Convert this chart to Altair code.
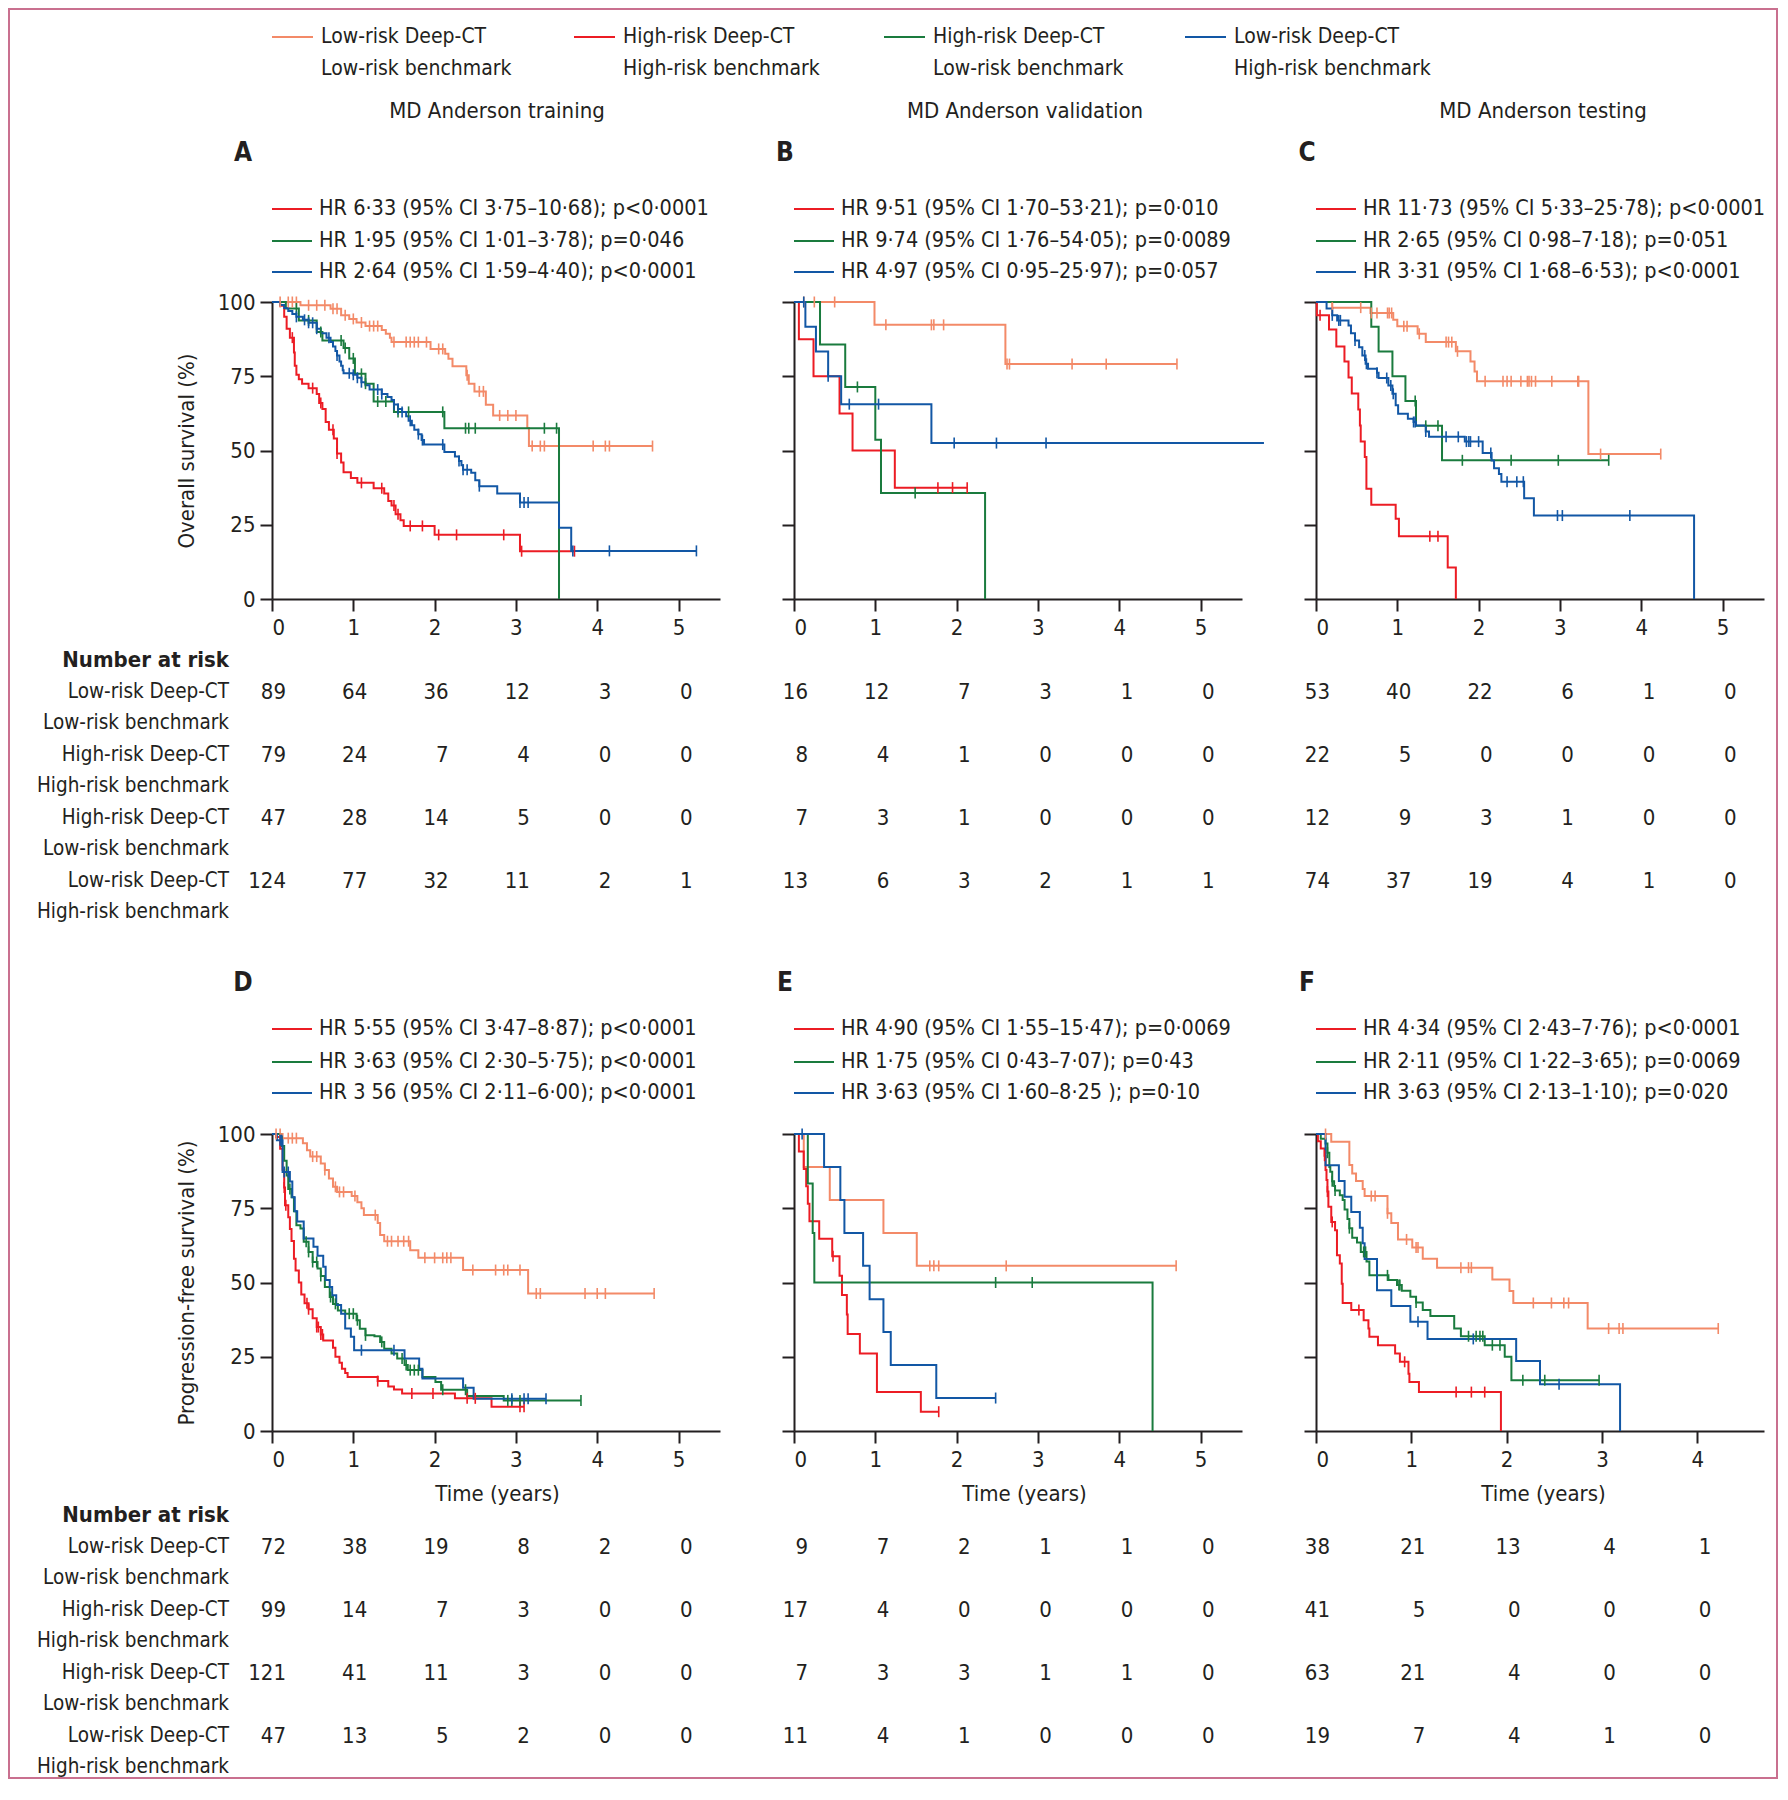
import altair as alt
import pandas as pd

FONT = "'Liberation Sans Narrow', 'DejaVu Sans Condensed', 'Liberation Sans', sans-serif"
TXT = "#231f20"
FRAME = "#c9708f"
FS = 22
FS_HR = 21.5
FS_LEG = 21
FS_ROWLAB = 20.5

GROUPS = [0, 1, 2, 3]
COLORS = ["#f38a68", "#ec1c24", "#1a7b3e", "#1257a5"]
LEG1 = ["Low-risk Deep-CT", "High-risk Deep-CT", "High-risk Deep-CT", "Low-risk Deep-CT"]
LEG2 = ["Low-risk benchmark", "High-risk benchmark", "Low-risk benchmark", "High-risk benchmark"]
COLUMN_TITLES = ["MD Anderson training", "MD Anderson validation", "MD Anderson testing"]

# ---------------- Panel A: OS, training ----------------
A_LL_T = [0.35, 0.72, 0.85, 0.95, 1.04, 1.15, 1.35, 1.40, 1.45, 1.47, 1.95, 2.13, 2.17, 2.22, 2.39, 2.42, 2.49, 2.63, 2.72, 3.14, 3.16]
A_LL_S = [98.9, 97.7, 95.5, 94.3, 93.1, 91.9, 90.6, 89.3, 88.0, 86.5, 84.2, 82.6, 80.9, 78.4, 75.3, 72.5, 69.9, 65.4, 61.8, 57.6, 51.5]
A_LL_C = [0.1, 0.2, 0.25, 0.3, 0.45, 0.55, 0.65, 0.75, 0.8, 0.9, 1.0, 1.1, 1.2, 1.25, 1.3, 1.5, 1.65, 1.7, 1.75, 1.8, 1.9, 2.05, 2.1, 2.4, 2.55, 2.6, 2.8, 2.9, 3.0, 3.2, 3.3, 3.35, 3.95, 4.1, 4.15, 4.68]
A_HH_T = [0.10, 0.15, 0.18, 0.22, 0.27, 0.28, 0.30, 0.33, 0.37, 0.45, 0.55, 0.58, 0.62, 0.66, 0.70, 0.76, 0.80, 0.85, 0.88, 0.97, 1.05, 1.25, 1.38, 1.43, 1.47, 1.52, 1.58, 1.62, 2.00, 3.05]
A_HH_S = [98.7, 95.0, 91.0, 88.0, 83.0, 78.5, 75.5, 74.0, 72.5, 71.0, 69.0, 66.0, 64.0, 59.6, 57.0, 54.0, 49.0, 46.0, 42.7, 40.7, 39.1, 37.3, 35.5, 33.0, 31.5, 28.5, 26.5, 24.6, 21.6, 16.1]
A_HH_C = [0.25, 0.5, 0.6, 0.75, 0.8, 1.1, 1.35, 1.5, 1.55, 1.7, 1.85, 2.05, 2.27, 2.85, 3.07, 3.72]
A_HL_T = [0.17, 0.33, 0.55, 0.62, 0.88, 0.95, 1.02, 1.15, 1.25, 1.50, 2.12, 3.53]
A_HL_S = [97.8, 93.8, 89.9, 87.0, 84.5, 81.0, 75.8, 72.5, 66.5, 63.0, 57.5, 0.0]
A_HL_C = [0.3, 0.45, 0.6, 0.85, 0.9, 1.0, 1.1, 1.15, 1.3, 1.4, 1.55, 1.68, 2.1, 2.38, 2.42, 2.5, 3.35, 3.5]
A_LH_T = [0.10, 0.15, 0.20, 0.25, 0.30, 0.38, 0.45, 0.55, 0.60, 0.67, 0.72, 0.75, 0.78, 0.80, 0.83, 0.85, 0.87, 0.88, 1.00, 1.05, 1.10, 1.15, 1.20, 1.35, 1.42, 1.47, 1.50, 1.55, 1.60, 1.65, 1.68, 1.72, 1.75, 1.80, 1.84, 1.87, 2.12, 2.25, 2.30, 2.33, 2.35, 2.45, 2.50, 2.55, 2.77, 3.05, 3.53, 3.68]
A_LH_S = [99.0, 98.0, 97.0, 96.0, 95.0, 94.0, 93.0, 91.0, 89.5, 88.0, 86.5, 85.0, 83.5, 82.0, 80.0, 78.5, 77.0, 76.0, 75.5, 74.5, 73.0, 72.0, 70.5, 69.0, 68.0, 67.0, 65.5, 64.0, 63.0, 61.5, 60.0, 58.5, 57.0, 55.5, 53.5, 52.0, 49.5, 48.0, 46.5, 45.0, 43.5, 42.5, 40.0, 38.0, 35.5, 32.5, 24.0, 16.2]
A_LH_C = [0.3, 0.4, 0.45, 0.5, 0.55, 0.7, 0.8, 0.95, 1.0, 1.05, 1.1, 1.3, 1.35, 1.5, 1.55, 1.6, 1.7, 1.8, 1.85, 2.1, 2.3, 2.35, 2.4, 2.55, 3.05, 3.1, 3.15, 3.7, 4.15, 5.22]

# ---------------- Panel B: OS, validation ----------------
B_LL_T = [0.99, 2.60]
B_LL_S = [92.3, 79.1]
B_LL_C = [0.12, 0.25, 0.5, 1.13, 1.69, 1.72, 1.84, 2.62, 2.65, 3.42, 3.84, 4.71]
B_HH_T = [0.06, 0.24, 0.56, 0.72, 1.24]
B_HH_S = [87.5, 75.0, 62.5, 50.0, 37.5]
B_HH_C = [1.77, 1.95, 2.13]
B_HL_T = [0.32, 0.63, 1.00, 1.07, 2.35]
B_HL_S = [85.7, 71.4, 53.6, 35.7, 0.0]
B_HL_C = [0.78, 1.49]
B_LH_T = [0.14, 0.27, 0.42, 0.58, 1.69]
B_LH_S = [91.7, 83.3, 75.0, 65.6, 52.5]
B_LH_C = [0.12, 0.42, 0.68, 1.04, 1.97, 2.49, 3.10]
B_LH_END = 5.78

# ---------------- Panel C: OS, testing ----------------
C_LL_T = [0.20, 0.67, 0.95, 1.00, 1.25, 1.35, 1.72, 1.90, 1.95, 1.98, 3.35]
C_LL_S = [98.1, 96.3, 94.0, 91.8, 89.3, 86.5, 83.4, 80.0, 76.6, 73.3, 48.8]
C_LL_C = [0.2, 0.55, 0.68, 0.75, 0.88, 0.9, 0.93, 1.08, 1.12, 1.27, 1.6, 1.63, 1.67, 1.74, 2.08, 2.3, 2.35, 2.4, 2.52, 2.6, 2.62, 2.65, 2.7, 2.9, 3.22, 3.23, 3.5, 4.24]
C_HH_T = [0.01, 0.16, 0.25, 0.35, 0.40, 0.44, 0.52, 0.54, 0.55, 0.60, 0.62, 0.68, 0.98, 1.02, 1.62, 1.72]
C_HH_S = [95.5, 90.7, 85.0, 80.0, 74.6, 69.2, 63.8, 58.4, 53.0, 47.8, 37.1, 31.7, 27.0, 21.1, 10.6, 0.0]
C_HH_C = [0.05, 1.4, 1.5]
C_HL_T = [0.68, 0.77, 0.94, 1.10, 1.23, 1.55]
C_HL_S = [91.7, 83.3, 75.0, 66.7, 58.3, 46.7]
C_HL_C = [1.22, 1.35, 1.5, 1.8, 2.4, 2.98, 3.6]
C_LH_T = [0.13, 0.20, 0.26, 0.40, 0.43, 0.48, 0.53, 0.57, 0.61, 0.64, 0.75, 0.77, 0.89, 0.94, 0.98, 1.01, 1.13, 1.20, 1.23, 1.35, 1.39, 1.83, 2.05, 2.16, 2.19, 2.25, 2.28, 2.56, 2.68, 4.65]
C_LH_S = [97.8, 95.5, 93.8, 92.1, 89.5, 87.0, 84.8, 82.0, 79.2, 77.5, 76.2, 74.4, 71.9, 69.1, 65.2, 62.4, 60.7, 59.6, 58.4, 56.4, 54.6, 53.0, 49.2, 46.6, 44.0, 42.1, 39.5, 33.9, 28.1, 0.0]
C_LH_C = [0.2, 0.28, 0.3, 0.48, 0.6, 0.62, 0.75, 0.87, 0.92, 0.95, 1.2, 1.22, 1.35, 1.6, 1.75, 1.85, 1.88, 1.9, 2.0, 2.15, 2.35, 2.47, 2.55, 2.97, 3.03, 3.86]

# ---------------- Panel D: PFS, training ----------------
D_LL_T = [0.13, 0.38, 0.43, 0.47, 0.60, 0.65, 0.70, 0.75, 0.80, 0.98, 1.05, 1.10, 1.13, 1.30, 1.33, 1.38, 1.70, 1.80, 2.35, 3.15]
D_LL_S = [98.6, 96.9, 94.5, 92.4, 90.1, 87.9, 85.0, 82.2, 80.5, 79.1, 77.0, 75.0, 72.7, 70.0, 66.0, 63.9, 60.9, 58.3, 54.2, 46.3]
D_LL_C = [0.05, 0.1, 0.2, 0.25, 0.3, 0.5, 0.55, 0.65, 0.78, 0.83, 0.88, 1.02, 1.27, 1.42, 1.47, 1.55, 1.62, 1.68, 1.88, 2.0, 2.1, 2.15, 2.2, 2.47, 2.75, 2.85, 2.9, 3.05, 3.25, 3.3, 3.85, 4.0, 4.1, 4.7]
D_HH_T = [0.05, 0.10, 0.13, 0.15, 0.16, 0.20, 0.22, 0.24, 0.27, 0.29, 0.33, 0.36, 0.40, 0.45, 0.50, 0.55, 0.60, 0.63, 0.75, 0.78, 0.83, 0.86, 0.90, 0.93, 1.30, 1.43, 1.50, 1.60, 2.25, 2.70]
D_HH_S = [99.0, 95.0, 88.0, 82.0, 76.0, 72.0, 68.0, 64.0, 58.0, 54.0, 50.0, 46.0, 43.0, 41.0, 38.0, 35.0, 32.5, 30.5, 28.0, 25.0, 23.0, 21.0, 19.5, 18.2, 16.8, 15.0, 14.0, 12.6, 11.0, 8.2]
D_HH_C = [0.15, 0.17, 0.43, 0.45, 0.55, 0.57, 0.6, 0.62, 1.3, 1.72, 1.98, 2.4, 2.5, 3.05, 3.1]
D_HL_T = [0.10, 0.12, 0.15, 0.18, 0.20, 0.24, 0.27, 0.30, 0.35, 0.39, 0.45, 0.50, 0.56, 0.60, 0.65, 0.71, 0.75, 0.81, 0.90, 1.04, 1.08, 1.15, 1.26, 1.33, 1.38, 1.47, 1.54, 1.63, 1.67, 1.85, 2.01, 2.08, 2.40, 2.85]
D_HL_S = [99.0, 96.0, 91.0, 86.0, 81.5, 78.7, 74.0, 69.3, 68.2, 63.7, 60.3, 56.9, 54.7, 52.2, 48.5, 45.1, 42.8, 40.6, 39.5, 37.3, 34.4, 32.2, 31.9, 30.0, 27.7, 26.1, 24.4, 22.2, 20.5, 18.2, 16.5, 13.9, 11.8, 10.3]
D_HL_C = [0.22, 0.42, 0.45, 0.5, 0.55, 0.6, 0.72, 0.78, 0.95, 1.0, 1.05, 1.15, 1.35, 1.6, 1.65, 1.7, 1.75, 1.8, 2.1, 2.38, 2.9, 2.95, 3.05, 3.8]
D_LH_T = [0.06, 0.13, 0.22, 0.25, 0.28, 0.31, 0.39, 0.51, 0.56, 0.63, 0.66, 0.71, 0.74, 0.79, 0.85, 0.90, 0.97, 1.01, 1.63, 1.81, 1.85, 2.35, 2.48]
D_LH_S = [97.9, 87.2, 84.0, 78.7, 74.0, 70.5, 64.8, 62.0, 59.0, 55.3, 50.8, 48.5, 45.7, 42.4, 39.5, 34.5, 31.7, 27.2, 24.4, 21.0, 17.7, 14.6, 10.9]
D_LH_C = [0.1, 0.12, 0.15, 0.2, 1.1, 1.5, 2.95, 3.1, 3.15, 3.37]

# ---------------- Panel E: PFS, validation ----------------
E_LL_T = [0.12, 0.44, 1.10, 1.51]
E_LL_S = [88.9, 77.8, 66.7, 55.6]
E_LL_C = [1.67, 1.72, 1.78, 2.61, 4.7]
E_HH_T = [0.06, 0.12, 0.15, 0.17, 0.19, 0.31, 0.47, 0.56, 0.59, 0.65, 0.66, 0.81, 1.02, 1.56]
E_HH_S = [94.1, 88.2, 82.4, 76.5, 70.6, 64.7, 58.8, 52.3, 45.8, 39.2, 32.7, 26.1, 13.1, 6.5]
E_HH_C = [0.48, 1.78]
E_HL_T = [0.17, 0.23, 0.25, 4.41]
E_HL_S = [83.3, 66.7, 50.0, 0.0]
E_HL_C = [2.48, 2.93]
E_LH_T = [0.37, 0.57, 0.62, 0.85, 0.93, 1.10, 1.19, 1.75]
E_LH_S = [88.9, 77.8, 66.7, 55.6, 44.4, 33.3, 22.2, 11.1]
E_LH_C = [0.1, 2.48]

# ---------------- Panel F: PFS, testing ----------------
F_LL_T = [0.16, 0.35, 0.38, 0.42, 0.49, 0.51, 0.75, 0.79, 0.86, 1.01, 1.12, 1.27, 1.85, 2.03, 2.07, 2.85]
F_LL_S = [97.4, 89.6, 86.7, 84.2, 81.5, 79.1, 73.3, 70.0, 64.5, 61.8, 58.0, 55.0, 51.0, 47.1, 43.1, 34.5]
F_LL_C = [0.1, 0.58, 0.62, 0.75, 0.95, 1.05, 1.07, 1.52, 1.6, 1.63, 2.28, 2.47, 2.6, 2.65, 3.07, 3.18, 3.22, 4.22]
F_HH_T = [0.02, 0.05, 0.09, 0.10, 0.11, 0.12, 0.13, 0.16, 0.20, 0.22, 0.25, 0.27, 0.28, 0.37, 0.50, 0.55, 0.56, 0.65, 0.83, 0.88, 0.97, 0.98, 1.08, 1.94]
F_HH_S = [97.6, 95.1, 92.7, 87.9, 84.5, 80.6, 75.5, 70.4, 67.6, 59.2, 56.4, 49.6, 43.1, 40.7, 37.3, 34.5, 31.7, 28.9, 26.1, 23.3, 19.3, 16.5, 13.1, 0.0]
F_HH_C = [0.09, 0.12, 0.17, 0.45, 0.93, 1.47, 1.63, 1.77]
F_HL_T = [0.05, 0.10, 0.12, 0.14, 0.15, 0.17, 0.19, 0.20, 0.25, 0.28, 0.30, 0.33, 0.35, 0.38, 0.43, 0.47, 0.53, 0.56, 0.76, 0.85, 0.90, 0.99, 1.05, 1.12, 1.20, 1.45, 1.52, 1.77, 1.98, 2.05]
F_HL_S = [98.4, 96.8, 93.7, 88.9, 87.3, 84.1, 82.5, 81.0, 79.4, 77.8, 74.6, 71.4, 68.3, 65.1, 63.5, 60.3, 57.1, 52.4, 50.8, 49.2, 47.2, 45.2, 43.3, 40.7, 38.7, 34.5, 31.9, 28.9, 25.0, 17.1]
F_HL_C = [0.12, 0.17, 0.2, 0.35, 0.5, 0.52, 0.75, 0.87, 0.88, 1.05, 1.6, 1.68, 1.72, 1.75, 1.85, 1.93, 2.17, 2.4, 2.97]
F_LH_T = [0.10, 0.24, 0.30, 0.37, 0.46, 0.49, 0.51, 0.64, 0.79, 0.99, 1.17, 2.10, 2.35, 3.19]
F_LH_S = [89.5, 84.2, 78.9, 73.7, 68.4, 63.2, 57.9, 47.4, 42.1, 36.8, 31.0, 23.6, 15.7, 0.0]
F_LH_C = [1.07, 1.65, 2.55]

# ---------------- Number at risk (rows: LL, HH, HL, LH) ----------------
A_RISK = [[89, 64, 36, 12, 3, 0], [79, 24, 7, 4, 0, 0], [47, 28, 14, 5, 0, 0], [124, 77, 32, 11, 2, 1]]
B_RISK = [[16, 12, 7, 3, 1, 0], [8, 4, 1, 0, 0, 0], [7, 3, 1, 0, 0, 0], [13, 6, 3, 2, 1, 1]]
C_RISK = [[53, 40, 22, 6, 1, 0], [22, 5, 0, 0, 0, 0], [12, 9, 3, 1, 0, 0], [74, 37, 19, 4, 1, 0]]
D_RISK = [[72, 38, 19, 8, 2, 0], [99, 14, 7, 3, 0, 0], [121, 41, 11, 3, 0, 0], [47, 13, 5, 2, 0, 0]]
E_RISK = [[9, 7, 2, 1, 1, 0], [17, 4, 0, 0, 0, 0], [7, 3, 3, 1, 1, 0], [11, 4, 1, 0, 0, 0]]
F_RISK = [[38, 21, 13, 4, 1], [41, 5, 0, 0, 0], [63, 21, 4, 0, 0], [19, 7, 4, 1, 0]]

# ---------------- Hazard-ratio annotations (red, green, blue) ----------------
A_HR = ["HR 6·33 (95% CI 3·75–10·68); p<0·0001", "HR 1·95 (95% CI 1·01–3·78); p=0·046", "HR 2·64 (95% CI 1·59–4·40); p<0·0001"]
B_HR = ["HR 9·51 (95% CI 1·70–53·21); p=0·010", "HR 9·74 (95% CI 1·76–54·05); p=0·0089", "HR 4·97 (95% CI 0·95–25·97); p=0·057"]
C_HR = ["HR 11·73 (95% CI 5·33–25·78); p<0·0001", "HR 2·65 (95% CI 0·98–7·18); p=0·051", "HR 3·31 (95% CI 1·68–6·53); p<0·0001"]
D_HR = ["HR 5·55 (95% CI 3·47–8·87); p<0·0001", "HR 3·63 (95% CI 2·30–5·75); p<0·0001", "HR 3 56 (95% CI 2·11–6·00); p<0·0001"]
E_HR = ["HR 4·90 (95% CI 1·55–15·47);  p=0·0069", "HR 1·75 (95% CI 0·43–7·07); p=0·43", "HR 3·63 (95% CI 1·60–8·25 ); p=0·10"]
F_HR = ["HR 4·34 (95% CI 2·43–7·76); p<0·0001", "HR 2·11 (95% CI 1·22–3·65); p=0·0069", "HR 3·63 (95% CI 2·13–1·10); p=0·020"]

CURVES = {
    "A": [(A_LL_T, A_LL_S, A_LL_C, None), (A_HH_T, A_HH_S, A_HH_C, None), (A_HL_T, A_HL_S, A_HL_C, None), (A_LH_T, A_LH_S, A_LH_C, None)],
    "B": [(B_LL_T, B_LL_S, B_LL_C, None), (B_HH_T, B_HH_S, B_HH_C, None), (B_HL_T, B_HL_S, B_HL_C, None), (B_LH_T, B_LH_S, B_LH_C, B_LH_END)],
    "C": [(C_LL_T, C_LL_S, C_LL_C, None), (C_HH_T, C_HH_S, C_HH_C, None), (C_HL_T, C_HL_S, C_HL_C, None), (C_LH_T, C_LH_S, C_LH_C, None)],
    "D": [(D_LL_T, D_LL_S, D_LL_C, None), (D_HH_T, D_HH_S, D_HH_C, None), (D_HL_T, D_HL_S, D_HL_C, None), (D_LH_T, D_LH_S, D_LH_C, None)],
    "E": [(E_LL_T, E_LL_S, E_LL_C, None), (E_HH_T, E_HH_S, E_HH_C, None), (E_HL_T, E_HL_S, E_HL_C, None), (E_LH_T, E_LH_S, E_LH_C, None)],
    "F": [(F_LL_T, F_LL_S, F_LL_C, None), (F_HH_T, F_HH_S, F_HH_C, None), (F_HL_T, F_HL_S, F_HL_C, None), (F_LH_T, F_LH_S, F_LH_C, None)],
}
RISK = {"A": A_RISK, "B": B_RISK, "C": C_RISK, "D": D_RISK, "E": E_RISK, "F": F_RISK}
HR = {"A": A_HR, "B": B_HR, "C": C_HR, "D": D_HR, "E": E_HR, "F": F_HR}

W, H = 448, 297


def one():
    return alt.Chart(pd.DataFrame({"k": [0]}))


def label(s, x, y, align="left", size=FS, weight="normal", color=TXT):
    return one().mark_text(text=s, align=align, baseline="middle", fontSize=size,
                           fontWeight=weight, color=color).encode(x=alt.value(x), y=alt.value(y))


def swatch(x1, x2, y, color):
    return one().mark_rule(color=color, strokeWidth=2).encode(
        x=alt.value(x1), x2=alt.value(x2), y=alt.value(y))


def surv_at(T, S, c):
    v = 100.0
    for t, s in zip(T, S):
        if t <= c:
            v = s
    return v


def panel(key, row, xmax, nticks, letter_x, show_ylab, ytitle, xtitle, xtitle_x, col_title, col_title_x):
    xs = alt.Scale(domain=[0, xmax], nice=False, zero=False)
    ys = alt.Scale(domain=[0, 100], nice=False, zero=False)

    xaxis_kw = dict(values=list(range(nticks)), format="d", labelPadding=6, tickSize=12)
    if xtitle:
        xaxis_kw.update(title=xtitle, titleX=xtitle_x, titleY=62, titleBaseline="middle")
    else:
        xaxis_kw.update(title=None)
    yaxis_kw = dict(values=[0, 25, 50, 75, 100], labels=show_ylab, labelPadding=5, tickSize=12)
    if ytitle:
        yaxis_kw.update(title=ytitle, titleX=-86, titleY=H / 2, titleBaseline="middle")
    else:
        yaxis_kw.update(title=None)

    def X():
        return alt.X("t:Q", scale=xs, axis=alt.Axis(**xaxis_kw))

    def Y():
        return alt.Y("s:Q", scale=ys, axis=alt.Axis(**yaxis_kw))

    lrows, crows = [], []
    for g, (T, S, C, end) in enumerate(CURVES[key]):
        ts = [0.0] + list(T)
        ss = [100.0] + list(S)
        last = max([ts[-1]] + list(C) + ([end] if end else []))
        if last > ts[-1]:
            ts.append(last)
            ss.append(ss[-1])
        for i, (t, s) in enumerate(zip(ts, ss)):
            lrows.append({"g": g, "i": i, "t": t, "s": s})
        for c in C:
            crows.append({"g": g, "t": c, "s": surv_at(T, S, c)})
    ldf = pd.DataFrame(lrows)
    cdf = pd.DataFrame(crows)
    cscale = alt.Scale(domain=GROUPS, range=COLORS)

    lines = alt.Chart(ldf).mark_line(interpolate="step-after", strokeWidth=2, clip=False).encode(
        x=X(), y=Y(),
        color=alt.Color("g:N", scale=cscale, legend=None),
        order=alt.Order("i:Q"),
    )
    cens = alt.Chart(cdf).mark_point(shape="M0,-1L0,1", size=121, strokeWidth=1.6, filled=False,
                                     opacity=1, clip=False).encode(
        x=X(), y=Y(),
        color=alt.Color("g:N", scale=cscale, legend=None),
    )
    layers = [lines, cens]

    # HR annotation block
    hr_y = [-93, -61, -30] if row == 1 else [-105, -72, -41]
    for k, txt in enumerate(HR[key]):
        layers.append(swatch(0, 40, hr_y[k], COLORS[k + 1]))
        layers.append(label(txt, 47, hr_y[k], size=FS_HR))
    layers.append(label(key, letter_x, -149 if row == 1 else -151, align="center", size=26, weight="bold"))
    if col_title:
        layers.append(label(col_title, col_title_x, -191, align="center"))

    # number at risk
    if row == 1:
        head_y, row_y = 358, [390, 453, 516, 579]
    else:
        head_y, row_y = 381, [413, 476, 539, 602]
    for r, counts in enumerate(RISK[key]):
        rdf = pd.DataFrame({"t": list(range(len(counts))), "n": [str(v) for v in counts]})
        layers.append(alt.Chart(rdf).mark_text(align="right", baseline="middle", dx=14, fontSize=FS,
                                               color=TXT).encode(
            x=X(), y=alt.value(row_y[r]), text=alt.Text("n:N")))
    if show_ylab:
        layers.append(label("Number at risk", -43, head_y, align="right", weight="bold"))
        for r in range(4):
            layers.append(label(LEG1[r], -43, row_y[r], align="right", size=FS_ROWLAB))
            layers.append(label(LEG2[r], -43, row_y[r] + 31, align="right", size=FS_ROWLAB))

    if key == "A":
        # figure legend at the top
        lx = [0, 302, 612, 913]
        for g in range(4):
            layers.append(swatch(lx[g], lx[g] + 41, -265, COLORS[g]))
            layers.append(label(LEG1[g], lx[g] + 49, -265, size=FS_LEG))
            layers.append(label(LEG2[g], lx[g] + 49, -233, size=FS_LEG))
        # figure frame
        layers.append(one().mark_rect(fillOpacity=0, stroke=FRAME, strokeWidth=2).encode(
            x=alt.value(-263), x2=alt.value(1505), y=alt.value(-293), y2=alt.value(1476)))

    return alt.layer(*layers).properties(width=W, height=H)


pA = panel("A", 1, 5.51, 6, -29, True, "Overall survival (%)", None, 225, COLUMN_TITLES[0], 225)
pB = panel("B", 1, 5.51, 6, -9, False, None, None, 230, COLUMN_TITLES[1], 231)
pC = panel("C", 1, 5.51, 6, -9, False, None, None, 227, COLUMN_TITLES[2], 227)
pD = panel("D", 2, 5.51, 6, -29, True, "Progression-free survival (%)", "Time (years)", 225, None, 0)
pE = panel("E", 2, 5.51, 6, -9, False, None, "Time (years)", 230, None, 0)
pF = panel("F", 2, 4.70, 5, -9, False, None, "Time (years)", 227, None, 0)

chart = alt.concat(pA, pB, pC, pD, pE, pF, columns=3, spacing={"row": 535, "column": 74},
                   bounds="flush").properties(padding=0).configure(
    font=FONT, background="white"
).configure_view(stroke=None).configure_axis(
    grid=False, domainColor=TXT, domainWidth=2, tickColor=TXT, tickWidth=2,
    labelColor=TXT, labelFontSize=FS, labelFont=FONT, titleFont=FONT,
    titleColor=TXT, titleFontSize=FS, titleFontWeight="normal",
)

chart.save("out.html", embed_options={"renderer": "svg", "actions": False})
